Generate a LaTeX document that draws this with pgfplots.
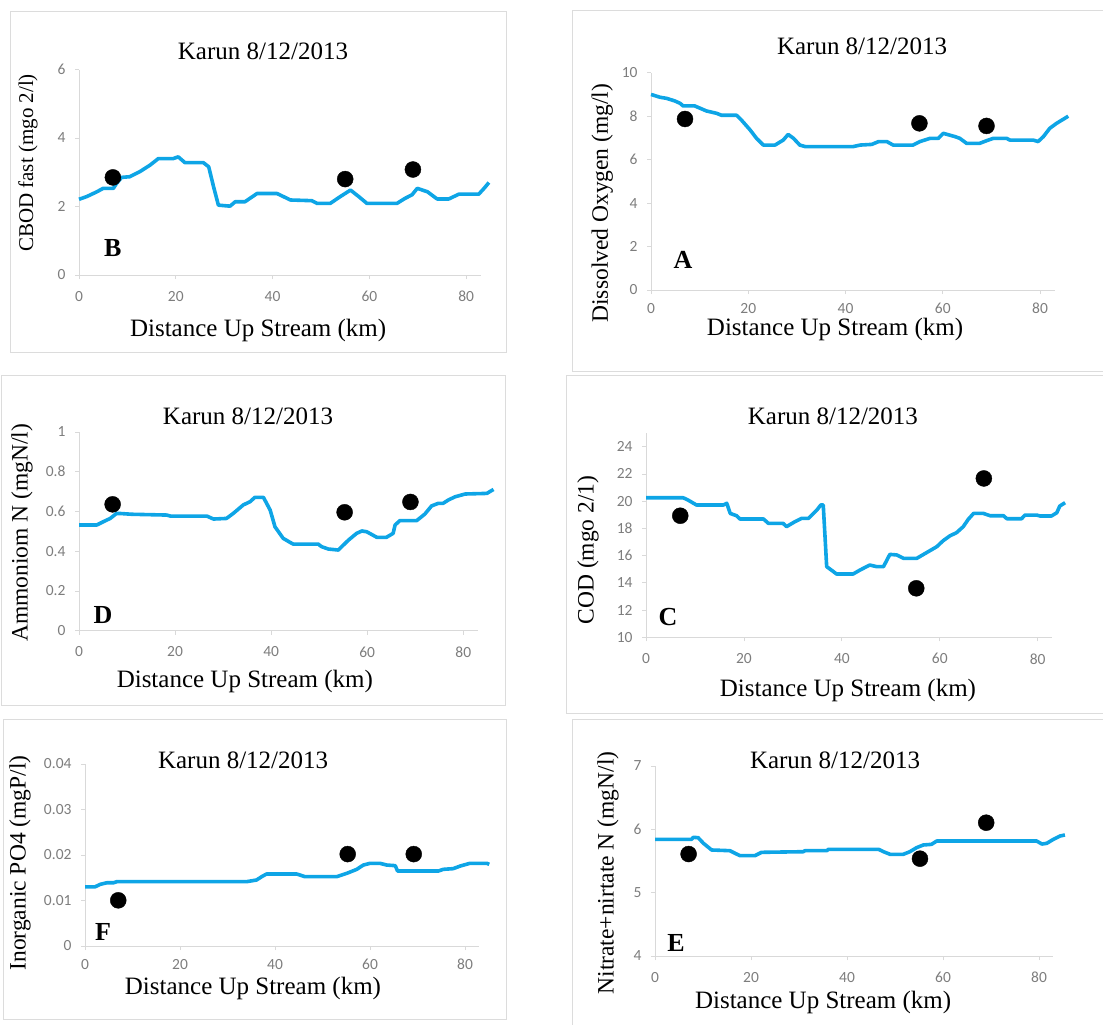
\documentclass[border=0pt]{standalone}
\usepackage{pgfplots}
\pgfplotsset{compat=1.18}
\usepackage{fontspec}
\setmainfont{Liberation Serif}
\newfontfamily\tickfont{Carlito}
\definecolor{lineblue}{RGB}{14,165,230}
\definecolor{axisgray}{RGB}{217,217,217}
\definecolor{tickgray}{RGB}{125,125,125}
\definecolor{framegray}{RGB}{220,220,220}
\tikzset{letter/.style={font=\bfseries\fontsize{26}{26}\selectfont}}
\pgfplotsset{
  every axis title shift=0pt,
  panel/.style={
    scale only axis, clip=false, axis lines=left,
    axis line style={draw=axisgray, line width=1pt, -},
    every tick/.style={draw=axisgray, line width=0.8pt},
    tick align=outside, major tick length=4pt,
    xmin=0, xmax=83, xtick={0,20,40,60,80},
    tick label style={font=\tickfont\fontsize{15.5}{15.5}\selectfont, text=tickgray},
    xticklabel style={inner sep=1pt, yshift=-11pt},
    yticklabel style={xshift=-6pt},
    /pgf/number format/assume math mode=true,
    scaled ticks=false,
    title style={font=\fontsize{25}{28}\selectfont, anchor=center, yshift=-3pt},
    xlabel style={font=\fontsize{25}{28}\selectfont, anchor=center, inner sep=0pt},
    ylabel style={font=\fontsize{23.5}{28}\selectfont, anchor=center},
    anchor=south west,
  },
  simline/.style={lineblue, line width=3.6pt, line join=round, no marks},
  obs/.style={only marks, mark=*, mark size=8pt, mark options={fill=black, draw=black}},
}
\begin{document}
\begin{tikzpicture}
\useasboundingbox (0,0) rectangle (1103pt,-1025pt);
% frames
\draw[framegray, line width=1pt] (10pt,-12pt) rectangle (506pt,-352pt);
\draw[framegray, line width=1pt] (572pt,-11pt) rectangle (1110pt,-371pt);
\draw[framegray, line width=1pt] (1pt,-375pt) rectangle (505pt,-705pt);
\draw[framegray, line width=1pt] (566pt,-375pt) rectangle (1110pt,-713pt);
\draw[framegray, line width=1pt] (3pt,-719pt) rectangle (506pt,-1019pt);
\draw[framegray, line width=1pt] (572pt,-719pt) rectangle (1110pt,-1030pt);

% ---------- B ----------
\begin{axis}[panel, at={(79pt,-275pt)}, width=401.7pt, height=205.5pt,
  ymin=0, ymax=6, ytick={0,2,4,6},
  title={Karun 8/12/2013}, title style={at={(axis description cs:0.458,1.105)}},
  xlabel={Distance Up Stream (km)}, xlabel style={at={(axis description cs:0.446,-0.268)}},
  ylabel={CBOD fast (mgo 2/l)}, ylabel style={at={(axis description cs:-0.127,0.545)}, font=\fontsize{21}{25}\selectfont}]
\addplot[simline] coordinates {(0,2.21)(1.6,2.29)(3.7,2.43)(5,2.53)(7.1,2.53)(7.8,2.68)(8.8,2.85)(10.5,2.87)(12.6,3.02)(14.7,3.21)(16.4,3.40)(19.5,3.40)(20.5,3.45)(21.9,3.28)(25.7,3.28)(26.8,3.16)(27.8,2.58)(28.8,2.04)(31.2,2.01)(32.3,2.14)(34.3,2.14)(36.8,2.38)(40.9,2.38)(43.7,2.19)(48.1,2.17)(49.2,2.09)(51.9,2.09)(54,2.29)(56.1,2.48)(57.8,2.29)(59.5,2.09)(65.7,2.09)(67.4,2.24)(68.8,2.34)(69.9,2.53)(72,2.43)(74,2.22)(76.4,2.22)(78.5,2.36)(82.6,2.36)(83.7,2.53)(84.7,2.70)};
\addplot[obs] coordinates {(7,2.85)(55,2.8)(69,3.08)};
\node[letter] at (axis cs:7,0.79) {B};
\end{axis}

% ---------- A ----------
\begin{axis}[panel, at={(651pt,-290pt)}, width=403.6pt, height=217.3pt,
  ymin=0, ymax=10, ytick={0,2,4,6,8,10},
  xticklabel style={yshift=3pt},
  title={Karun 8/12/2013}, title style={at={(axis description cs:0.523,1.137)}},
  xlabel={Distance Up Stream (km)}, xlabel style={at={(axis description cs:0.456,-0.181)}},
  ylabel={Dissolved Oxygen (mg/l)}, ylabel style={at={(axis description cs:-0.121,0.400)}}]
\addplot[simline] coordinates {(0,9.0)(1.85,8.87)(3.2,8.82)(4.9,8.70)(6,8.59)(6.6,8.47)(9,8.47)(11.4,8.24)(13.5,8.13)(14.5,8.04)(17.6,8.04)(18.6,7.82)(20.4,7.36)(21.7,6.98)(23.1,6.67)(25.5,6.67)(27.2,6.90)(28.2,7.16)(29.3,6.98)(30.6,6.67)(31.7,6.60)(41.6,6.60)(43,6.67)(45.4,6.70)(46.8,6.83)(48.5,6.83)(49.8,6.67)(53.9,6.67)(55.3,6.83)(57.4,6.98)(59.1,6.98)(60.1,7.21)(62.5,7.06)(63.5,6.98)(64.9,6.75)(67.6,6.75)(69,6.87)(70.4,6.98)(73.1,6.98)(73.8,6.90)(78.6,6.90)(79.6,6.83)(80.7,7.06)(82,7.44)(83.4,7.67)(85.1,7.90)(85.8,8.0)};
\addplot[obs] coordinates {(7,7.87)(55.2,7.67)(69,7.55)};
\node[letter] at (axis cs:6.6,1.38) {A};
\end{axis}

% ---------- D ----------
\begin{axis}[panel, at={(79pt,-630.7pt)}, width=398.7pt, height=198.7pt,
  ymin=0, ymax=1, ytick={0,0.2,0.4,0.6,0.8,1},
  title={Karun 8/12/2013}, title style={at={(axis description cs:0.424,1.096)}},
  xlabel={Distance Up Stream (km)}, xlabel style={at={(axis description cs:0.416,-0.258)}},
  ylabel={Ammoniom N (mgN/l)}, ylabel style={at={(axis description cs:-0.143,0.492)}}]
\addplot[simline] coordinates {(0,0.532)(3.7,0.532)(5.1,0.549)(6.5,0.565)(7.8,0.59)(8.5,0.59)(11,0.586)(18.3,0.582)(19,0.577)(26.6,0.577)(28,0.562)(30.7,0.565)(32.1,0.59)(34.2,0.633)(35.6,0.649)(36.6,0.671)(38.4,0.671)(39.8,0.607)(40.8,0.523)(42.5,0.465)(43.9,0.445)(44.6,0.436)(49.8,0.436)(50.5,0.423)(51.9,0.411)(54,0.406)(54.7,0.423)(56.1,0.456)(57.8,0.49)(58.9,0.502)(59.9,0.498)(62,0.47)(64,0.47)(65.4,0.49)(65.8,0.532)(66.8,0.554)(70.3,0.554)(72,0.587)(73.4,0.628)(74.8,0.641)(75.8,0.641)(76.9,0.658)(78.3,0.674)(80.4,0.688)(84.9,0.691)(86.3,0.711)};
\addplot[obs] coordinates {(7,0.636)(55.3,0.596)(69,0.648)};
\node[letter] at (axis cs:5.0,0.079) {D};
\end{axis}

% ---------- C ----------
\begin{axis}[panel, at={(646pt,-637.3pt)}, width=406.4pt, height=204.2pt,
  ymin=10, ymax=25, ytick={10,12,14,16,18,20,22,24},
  title={Karun 8/12/2013}, title style={at={(axis description cs:0.460,1.098)}},
  xlabel={Distance Up Stream (km)}, xlabel style={at={(axis description cs:0.497,-0.258)}},
  ylabel={COD (mgo 2/1)}, ylabel style={at={(axis description cs:-0.143,0.428)}}]
\addplot[simline] coordinates {(0,20.25)(7.6,20.25)(8.6,20.08)(10.3,19.72)(15.8,19.72)(16.5,19.84)(17.2,19.10)(18.5,18.93)(19.2,18.69)(24,18.69)(25,18.37)(28,18.37)(28.7,18.13)(30.4,18.49)(31.8,18.74)(33.2,18.74)(34.9,19.35)(35.7,19.72)(36.2,19.72)(36.6,17.15)(36.9,15.19)(38.3,14.82)(38.9,14.65)(42.3,14.65)(43.7,14.94)(45.7,15.31)(47.1,15.19)(48.5,15.19)(49.8,16.09)(51.2,16.05)(52.6,15.80)(55.3,15.80)(57.3,16.22)(59.4,16.66)(60.7,17.10)(62.1,17.46)(63.4,17.68)(64.8,18.13)(65.8,18.66)(66.9,19.10)(68.9,19.10)(70.3,18.93)(73,18.93)(73.7,18.71)(76.7,18.71)(77.4,18.98)(79.8,18.98)(80.5,18.91)(82.8,18.91)(83.9,19.15)(84.5,19.64)(85.6,19.89)};
\addplot[obs] coordinates {(7,18.93)(55.2,13.6)(69,21.67)};
\node[letter] at (axis cs:4.5,11.49) {C};
\end{axis}

% ---------- F ----------
\begin{axis}[panel, at={(85pt,-946pt)}, width=394.3pt, height=182pt,
  ymin=0, ymax=0.04, ytick={0,0.01,0.02,0.03,0.04},
  yticklabel style={/pgf/number format/fixed, /pgf/number format/precision=2},
  xticklabel style={yshift=3pt},
  title={Karun 8/12/2013}, title style={at={(axis description cs:0.401,1.038)}},
  xlabel={Distance Up Stream (km)}, xlabel style={at={(axis description cs:0.426,-0.236)}},
  ylabel={Inorganic PO4 (mgP/l)}, ylabel style={at={(axis description cs:-0.165,0.456)}}]
\addplot[simline] coordinates {(0,0.0130)(2.1,0.0130)(3.2,0.01355)(4.6,0.0139)(6,0.0139)(6.7,0.01414)(34,0.01414)(36.1,0.0145)(37.2,0.01524)(38.2,0.01582)(44.6,0.01582)(46.3,0.01524)(53,0.01524)(55.1,0.01597)(57.2,0.01685)(58.6,0.0178)(60,0.01817)(62.1,0.01817)(63.5,0.0178)(65.3,0.01766)(65.8,0.01648)(70.5,0.01648)(74.4,0.01648)(75.4,0.01685)(77.5,0.0170)(79,0.01758)(81,0.01817)(84.6,0.01817)(85.1,0.01795)};
\addplot[obs] coordinates {(7,0.01004)(55.3,0.0202)(69.2,0.0202)};
\node[letter] at (axis cs:3.8,0.0031) {F};
\end{axis}

% ---------- E ----------
\begin{axis}[panel, at={(655pt,-956pt)}, width=398.4pt, height=190pt,
  ymin=4, ymax=7, ytick={4,5,6,7},
  title={Karun 8/12/2013}, title style={at={(axis description cs:0.452,1.047)}},
  xlabel={Distance Up Stream (km)}, xlabel style={at={(axis description cs:0.422,-0.247)}},
  ylabel={Nitrate+nirtate N (mgN/l)}, ylabel style={at={(axis description cs:-0.118,0.437)}}]
\addplot[simline] coordinates {(0,5.842)(7.6,5.842)(8,5.874)(9,5.868)(10.1,5.779)(11.8,5.674)(15.6,5.663)(16.7,5.621)(17.7,5.584)(20.8,5.584)(22.2,5.637)(30.9,5.647)(31.25,5.663)(35.8,5.663)(36.1,5.684)(46.6,5.684)(47.6,5.647)(49,5.605)(51.7,5.605)(53.1,5.647)(54.5,5.711)(55.9,5.753)(57.6,5.763)(58.7,5.816)(79.5,5.816)(80.6,5.768)(81.6,5.779)(83,5.842)(84.4,5.895)(85.4,5.911)};
\addplot[obs] coordinates {(7,5.61)(55.2,5.537)(69,6.105)};
\node[letter] at (axis cs:4.4,4.205) {E};
\end{axis}
\end{tikzpicture}
\end{document}
